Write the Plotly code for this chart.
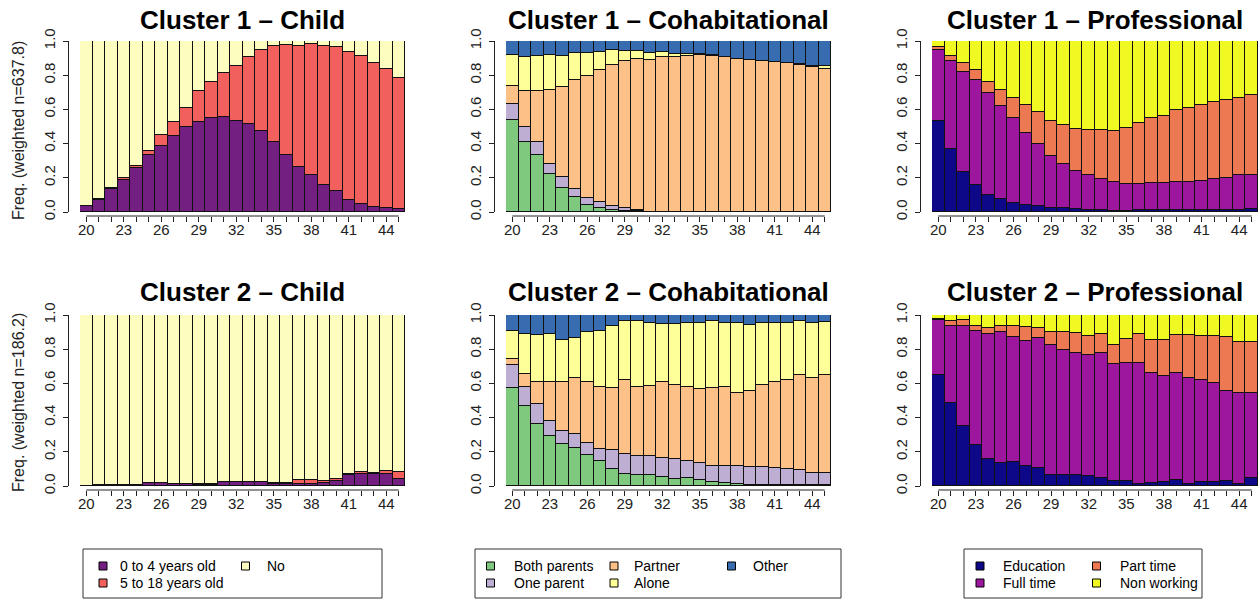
import plotly.graph_objects as go

# ---------------- data ----------------
ages = list(range(20, 46))
x_tick_labels = [str(a) if (a - 20) % 3 == 0 else "" for a in ages]
y_tick_vals = [0.0, 0.2, 0.4, 0.6, 0.8, 1.0]
y_tick_labels = ["0.0", "0.2", "0.4", "0.6", "0.8", "1.0"]

child_labels = ["0 to 4 years old", "5 to 18 years old", "No"]
child_colors = ["#721F81", "#F1605D", "#FCFDBF"]
cohab_labels = ["Both parents", "One parent", "Partner", "Alone", "Other"]
cohab_colors = ["#7FC97F", "#BEAED4", "#FDC086", "#FFFF99", "#386CB0"]
prof_labels = ["Education", "Full time", "Part time", "Non working"]
prof_colors = ["#0D0887", "#9C179E", "#ED7953", "#F0F921"]

# Cluster 1 - Child
c1_child_0_4 = [0.035, 0.072, 0.136, 0.189, 0.257, 0.331, 0.386, 0.442, 0.495, 0.528, 0.552, 0.558, 0.532,
                0.517, 0.474, 0.407, 0.335, 0.263, 0.218, 0.160, 0.121, 0.072, 0.045, 0.031, 0.021, 0.019]
c1_child_5_18 = [0.003, 0.002, 0.004, 0.010, 0.014, 0.028, 0.062, 0.084, 0.115, 0.180, 0.210, 0.257, 0.324,
                 0.387, 0.473, 0.562, 0.640, 0.710, 0.766, 0.813, 0.842, 0.864, 0.865, 0.840, 0.815, 0.767]
c1_child_no = [0.962, 0.926, 0.860, 0.801, 0.729, 0.641, 0.552, 0.474, 0.390, 0.292, 0.238, 0.185, 0.144,
               0.096, 0.053, 0.031, 0.025, 0.027, 0.016, 0.027, 0.037, 0.064, 0.090, 0.129, 0.164, 0.214]

# Cluster 1 - Cohabitational
c1_both = [0.540, 0.409, 0.335, 0.222, 0.140, 0.088, 0.043, 0.025, 0.014, 0.008, 0.004, 0.001, 0.0,
           0, 0, 0, 0, 0, 0, 0, 0, 0, 0, 0, 0, 0]
c1_one = [0.090, 0.088, 0.074, 0.061, 0.065, 0.048, 0.041, 0.035, 0.021, 0.015, 0.008, 0.001, 0.001,
          0, 0, 0, 0, 0, 0, 0, 0, 0, 0, 0, 0, 0]
c1_partner = [0.107, 0.213, 0.297, 0.430, 0.526, 0.636, 0.713, 0.772, 0.823, 0.858, 0.883, 0.885, 0.907,
              0.908, 0.914, 0.916, 0.912, 0.905, 0.893, 0.889, 0.883, 0.875, 0.869, 0.858, 0.846, 0.836]
c1_alone = [0.183, 0.198, 0.206, 0.203, 0.181, 0.158, 0.133, 0.106, 0.087, 0.059, 0.048, 0.043, 0.026,
            0.014, 0.010, 0.006, 0.004, 0.003, 0.004, 0.002, 0.002, 0.002, 0.004, 0.006, 0.008, 0.016]
c1_other = [0.080, 0.092, 0.088, 0.084, 0.088, 0.070, 0.070, 0.062, 0.055, 0.060, 0.057, 0.070, 0.066,
            0.078, 0.076, 0.078, 0.084, 0.092, 0.103, 0.109, 0.115, 0.123, 0.127, 0.136, 0.146, 0.148]

# Cluster 1 - Professional
c1_edu = [0.532, 0.366, 0.234, 0.156, 0.097, 0.074, 0.051, 0.043, 0.033, 0.025, 0.025, 0.019, 0.010,
          0.010, 0.006, 0.008, 0.014, 0.014, 0.014, 0.014, 0.012, 0.012, 0.014, 0.014, 0.014, 0.018]
c1_full = [0.415, 0.515, 0.587, 0.614, 0.597, 0.544, 0.497, 0.419, 0.363, 0.304, 0.256, 0.223, 0.208,
           0.181, 0.169, 0.158, 0.150, 0.154, 0.156, 0.161, 0.165, 0.171, 0.179, 0.187, 0.200, 0.198]
c1_part = [0.018, 0.029, 0.048, 0.058, 0.068, 0.093, 0.117, 0.162, 0.191, 0.205, 0.228, 0.245, 0.260,
           0.289, 0.297, 0.325, 0.358, 0.384, 0.389, 0.420, 0.429, 0.443, 0.452, 0.456, 0.455, 0.470]
c1_nonwork = [0.035, 0.090, 0.131, 0.172, 0.238, 0.289, 0.335, 0.376, 0.413, 0.466, 0.491, 0.513, 0.522,
              0.520, 0.528, 0.509, 0.478, 0.448, 0.441, 0.405, 0.394, 0.374, 0.355, 0.343, 0.331, 0.314]

# Cluster 2 - Child
c2_child_0_4 = [0.0, 0.008, 0.008, 0.008, 0.008, 0.017, 0.017, 0.010, 0.010, 0.004, 0.004, 0.021, 0.021,
                0.021, 0.021, 0.010, 0.010, 0.013, 0.013, 0.017, 0.031, 0.062, 0.071, 0.073, 0.071, 0.042]
c2_child_5_18 = [0, 0, 0, 0, 0, 0, 0, 0, 0, 0.006, 0.006, 0, 0,
                 0, 0, 0.007, 0.007, 0.020, 0.020, 0.010, 0.011, 0.011, 0.012, 0.002, 0.014, 0.039]
c2_child_no = [1.0, 0.992, 0.992, 0.992, 0.992, 0.983, 0.983, 0.990, 0.990, 0.990, 0.990, 0.979, 0.979,
               0.979, 0.979, 0.983, 0.983, 0.967, 0.967, 0.973, 0.958, 0.927, 0.917, 0.925, 0.915, 0.919]

# Cluster 2 - Cohabitational
c2_both = [0.573, 0.465, 0.362, 0.292, 0.244, 0.225, 0.181, 0.144, 0.098, 0.071, 0.063, 0.063, 0.052,
           0.042, 0.046, 0.035, 0.023, 0.019, 0.010, 0.006, 0.006, 0.006, 0.006, 0.004, 0.004, 0.004]
c2_one = [0.133, 0.112, 0.119, 0.089, 0.077, 0.077, 0.073, 0.073, 0.112, 0.116, 0.112, 0.112, 0.111,
          0.118, 0.100, 0.100, 0.094, 0.096, 0.105, 0.106, 0.107, 0.100, 0.094, 0.088, 0.071, 0.071]
c2_partner = [0.034, 0.077, 0.129, 0.229, 0.285, 0.327, 0.356, 0.360, 0.363, 0.432, 0.402, 0.408, 0.447,
              0.432, 0.433, 0.432, 0.456, 0.462, 0.427, 0.444, 0.477, 0.500, 0.519, 0.556, 0.554, 0.573]
c2_alone = [0.168, 0.236, 0.275, 0.280, 0.246, 0.236, 0.290, 0.331, 0.364, 0.344, 0.386, 0.369, 0.340,
            0.356, 0.373, 0.385, 0.390, 0.379, 0.410, 0.386, 0.366, 0.350, 0.337, 0.317, 0.325, 0.314]
c2_other = [0.092, 0.110, 0.115, 0.110, 0.148, 0.135, 0.100, 0.092, 0.063, 0.037, 0.037, 0.048, 0.050,
            0.052, 0.048, 0.048, 0.037, 0.044, 0.048, 0.058, 0.044, 0.044, 0.044, 0.035, 0.046, 0.038]

# Cluster 2 - Professional
c2_edu = [0.648, 0.487, 0.352, 0.242, 0.158, 0.137, 0.138, 0.115, 0.106, 0.063, 0.062, 0.063, 0.058,
          0.048, 0.031, 0.031, 0.013, 0.017, 0.021, 0.035, 0.013, 0.025, 0.025, 0.027, 0.013, 0.046]
c2_full = [0.321, 0.450, 0.585, 0.666, 0.732, 0.761, 0.733, 0.735, 0.759, 0.762, 0.732, 0.716, 0.711,
           0.727, 0.681, 0.686, 0.704, 0.646, 0.625, 0.628, 0.618, 0.594, 0.579, 0.531, 0.533, 0.500]
c2_part = [0.010, 0.026, 0.032, 0.025, 0.033, 0.035, 0.064, 0.081, 0.058, 0.075, 0.106, 0.117, 0.110,
           0.113, 0.115, 0.145, 0.171, 0.191, 0.206, 0.222, 0.250, 0.260, 0.275, 0.311, 0.294, 0.294]
c2_nonwork = [0.021, 0.037, 0.031, 0.067, 0.077, 0.067, 0.065, 0.069, 0.077, 0.100, 0.100, 0.104, 0.121,
              0.112, 0.173, 0.138, 0.112, 0.146, 0.148, 0.115, 0.119, 0.121, 0.121, 0.131, 0.160, 0.160]

ylab_c1 = "Freq. (weighted n=637.8)"
ylab_c2 = "Freq. (weighted n=186.2)"

panels = [
    ("Cluster 1 \u2013 Child", [c1_child_0_4, c1_child_5_18, c1_child_no], child_labels, child_colors),
    ("Cluster 1 \u2013 Cohabitational", [c1_both, c1_one, c1_partner, c1_alone, c1_other], cohab_labels, cohab_colors),
    ("Cluster 1 \u2013 Professional", [c1_edu, c1_full, c1_part, c1_nonwork], prof_labels, prof_colors),
    ("Cluster 2 \u2013 Child", [c2_child_0_4, c2_child_5_18, c2_child_no], child_labels, child_colors),
    ("Cluster 2 \u2013 Cohabitational", [c2_both, c2_one, c2_partner, c2_alone, c2_other], cohab_labels, cohab_colors),
    ("Cluster 2 \u2013 Professional", [c2_edu, c2_full, c2_part, c2_nonwork], prof_labels, prof_colors),
]

# ---------------- layout geometry (pixels) ----------------
W, H = 1259, 599
FONT = "Liberation Sans, Arial, sans-serif"


def fx(p):
    return p / W


def fy(p):
    return 1 - p / H


col_px = [(80, 405), (506, 831), (932, 1258)]
row_px = [(41, 212), (315, 486)]
title_y = [20, 292]
ylab_y = [131, 403]

fig = go.Figure()
shapes = []
annotations = []

for k, (title, series, labels, colors) in enumerate(panels):
    r, c = divmod(k, 3)
    idx = "" if k == 0 else str(k + 1)
    x0, x1 = col_px[c]
    top, bot = row_px[r]
    for vals, lab, colr in zip(series, labels, colors):
        fig.add_trace(go.Bar(
            x=ages, y=vals, width=1, name=lab,
            marker=dict(color=colr, line=dict(color="#111111", width=1)),
            xaxis="x" + idx, yaxis="y" + idx, showlegend=False,
        ))
    fig.layout["xaxis" + idx] = dict(
        domain=[fx(x0), fx(x1)], range=[19.5, 45.5], anchor="free", position=fy(bot + 4),
        automargin=False,
        showline=False, showgrid=False, zeroline=False,
        ticks="outside", ticklen=5, tickwidth=1, tickcolor="#222222",
        tickvals=ages, ticktext=x_tick_labels, ticklabelstandoff=-5,
        tickfont=dict(family=FONT, size=15, color="#222222"),
    )
    fig.layout["yaxis" + idx] = dict(
        domain=[fy(bot), fy(top)], range=[0, 1], anchor="free", position=fx(x0 - 12),
        automargin=False,
        showline=True, linecolor="#222222", linewidth=1,
        showgrid=False, zeroline=False,
        ticks="outside", ticklen=5, tickwidth=1, tickcolor="#222222",
        tickvals=y_tick_vals, ticktext=y_tick_labels, tickangle=-90, ticklabelstandoff=2,
        tickfont=dict(family=FONT, size=15, color="#222222"),
    )
    # R-style x axis line from first to last tick
    shapes.append(dict(type="line", xref="x" + idx, yref="paper", x0=20, x1=45,
                       y0=fy(bot + 4), y1=fy(bot + 4), line=dict(color="#222222", width=1)))
    annotations.append(dict(
        text=title, x=fx((x0 + x1) / 2), y=fy(title_y[r]), xref="paper", yref="paper",
        xanchor="center", yanchor="middle", showarrow=False,
        font=dict(family=FONT, size=26, color="black", weight="bold"),
    ))
    if c == 0:
        annotations.append(dict(
            text=ylab_c1 if r == 0 else ylab_c2, x=fx(18), y=fy(ylab_y[r]),
            xref="paper", yref="paper", xanchor="center", yanchor="middle",
            textangle=-90, showarrow=False,
            font=dict(family=FONT, size=16, color="#222222"),
        ))

# ---------------- legends (R style, column-major) ----------------
legend_specs = [
    # (labels, colors, box (x0,y0,x1,y1), square centre x per column, text x per column)
    (child_labels, child_colors, (83, 549, 382, 598), [103, 245.5], [118, 265]),
    (cohab_labels, cohab_colors, (475, 549, 841, 598), [490.5, 614, 731.5], [511.5, 632, 750.5]),
    (prof_labels, prof_colors, (964, 549, 1202, 598), [980, 1096.5], [1000.5, 1118]),
]
row_y = [566, 583]
sq = 8
for labels, colors, box, sqx, tx in legend_specs:
    bx0, by0, bx1, by1 = box
    shapes.append(dict(type="rect", xref="paper", yref="paper",
                       x0=fx(bx0), x1=fx(bx1), y0=fy(by1), y1=fy(by0),
                       line=dict(color="#333333", width=1), fillcolor="white", layer="below"))
    for i, (lab, colr) in enumerate(zip(labels, colors)):
        ci, ri = divmod(i, 2)
        cy = row_y[ri]
        shapes.append(dict(type="rect", xref="paper", yref="paper",
                           x0=fx(sqx[ci] - sq / 2), x1=fx(sqx[ci] + sq / 2),
                           y0=fy(cy + sq / 2), y1=fy(cy - sq / 2),
                           line=dict(color="black", width=1), fillcolor=colr))
        annotations.append(dict(
            text=lab, x=fx(tx[ci]), y=fy(cy), xref="paper", yref="paper",
            xanchor="left", yanchor="middle", showarrow=False,
            font=dict(family=FONT, size=14, color="black"),
        ))

fig.update_layout(
    template="none",
    width=W, height=H, margin=dict(l=0, r=0, t=0, b=0, pad=0, autoexpand=False),
    barmode="stack", bargap=0,
    paper_bgcolor="white", plot_bgcolor="white",
    shapes=shapes, annotations=annotations, showlegend=False,
    font=dict(family=FONT),
)

fig.write_html("out.html")
